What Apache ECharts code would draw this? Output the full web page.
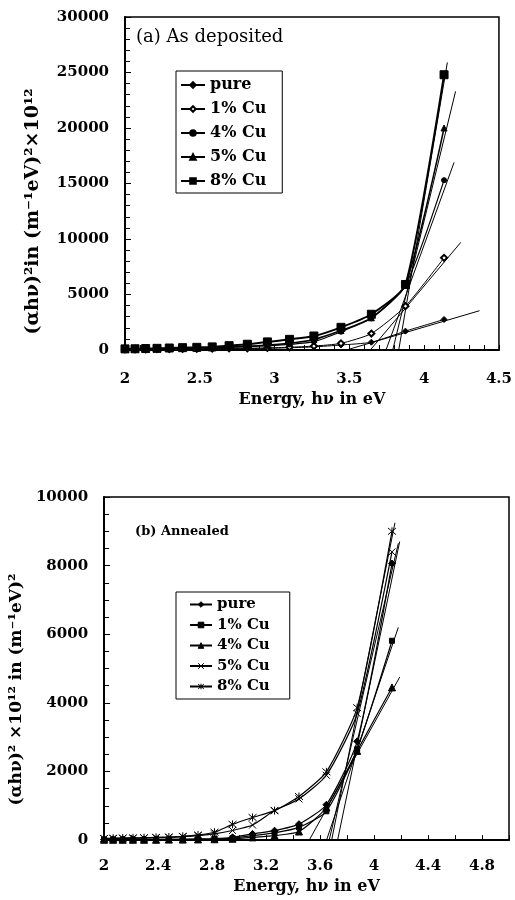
<!DOCTYPE html>
<html><head><meta charset="utf-8">
<script src="https://cdn.jsdelivr.net/npm/echarts@6/dist/echarts.min.js"></script>
<style>
html,body{margin:0;padding:0;background:#fff;width:515px;height:900px;overflow:hidden}
#a{position:absolute;left:0;top:0;width:515px;height:450px}
#b{position:absolute;left:0;top:450px;width:515px;height:450px}
</style>
</head><body><div id="a"></div><div id="b"></div>
<script>
// Photon energies (eV)
const energy = [2.0, 2.067, 2.138, 2.214, 2.296, 2.385, 2.48, 2.583, 2.696, 2.818, 2.952, 3.1, 3.263, 3.444, 3.647, 3.875, 4.133];
const seriesNames = ['pure', '1% Cu', '4% Cu', '5% Cu', '8% Cu'];

// (a) As deposited
const pureA = [50, 55, 60, 65, 70, 80, 90, 100, 110, 130, 150, 200, 280, 450, 700, 1700, 2750];
const cu1A  = [60, 65, 70, 80, 90, 100, 110, 120, 140, 160, 190, 250, 350, 600, 1480, 3950, 8300];
const cu4A  = [80, 90, 100, 110, 130, 150, 170, 200, 240, 300, 380, 500, 750, 1650, 2850, 5800, 15300];
const cu5A  = [90, 100, 110, 120, 140, 160, 190, 220, 270, 340, 440, 600, 950, 1750, 2900, 5850, 20000];
const cu8A  = [100, 110, 130, 150, 180, 210, 240, 280, 390, 520, 730, 960, 1260, 2040, 3220, 5900, 24800];
// tangent (extrapolation) lines, panel a
const tanPureA = [[3.48, 0], [4.37, 3540]];
const tan1A    = [[3.64, 0], [4.245, 9700]];
const tan4A    = [[3.745, 0], [4.2, 16900]];
const tan5A    = [[3.79, 0], [4.21, 23300]];
const tan8A    = [[3.83, 0], [4.155, 25900]];

// (b) Annealed
const pureB = [20, 20, 20, 20, 20, 20, 25, 25, 30, 40, 80, 180, 275, 465, 1030, 2880, 8060];
const cu1B  = [15, 15, 15, 15, 15, 15, 20, 20, 25, 30, 60, 130, 210, 370, 840, 2650, 5810];
const cu4B  = [10, 10, 10, 10, 10, 10, 15, 15, 20, 25, 40, 80, 130, 250, 950, 2600, 4450];
const cu5B  = [40, 45, 50, 55, 60, 70, 80, 100, 130, 180, 280, 440, 860, 1200, 1890, 3690, 8400];
const cu8B  = [50, 55, 60, 65, 70, 80, 90, 110, 150, 230, 460, 660, 860, 1270, 1990, 3860, 9000];
// tangent lines, panel b
const tanPureB = [[3.73, 0], [4.19, 8700]];
const tan1B    = [[3.648, 0], [4.18, 6200]];
const tan4B    = [[3.52, 0], [4.19, 4750]];
const tan5B    = [[3.668, 0], [4.18, 8650]];
const tan8B    = [[3.686, 0], [4.155, 9250]];

const FONT = 'DejaVu Serif';

function pts(vals) { return energy.map((x, i) => [x, vals[i]]); }
function plain(v) { return String(Math.round(v * 1000) / 1000); }

function xAxisCfg(min, max, interval, minorSplit, name, nameGap, labelMargin, showMax) {
  return {
    type: 'value', min: min, max: max, interval: interval,
    axisLine: {show: true, onZero: false, lineStyle: {color: '#000', width: 2}},
    axisTick: {show: true, inside: true, length: 5, lineStyle: {color: '#000', width: 1}},
    minorTick: {show: true, splitNumber: minorSplit, length: 5, lineStyle: {color: '#000', width: 1}},
    splitLine: {show: false},
    axisLabel: {color: '#000', fontFamily: FONT, fontWeight: 'bold', fontSize: 15, margin: labelMargin, showMaxLabel: showMax, formatter: plain},
    name: name, nameLocation: 'middle', nameGap: nameGap,
    nameTextStyle: {color: '#000', fontFamily: FONT, fontWeight: 'bold', fontSize: 16}
  };
}
function yAxisCfg(min, max, interval, minorSplit, name, nameGap, fontSize, shift) {
  return {
    type: 'value', min: min, max: max, interval: interval,
    axisLine: {show: true, lineStyle: {color: '#000', width: 2}},
    axisTick: {show: true, inside: true, length: 6, lineStyle: {color: '#000', width: 1}},
    minorTick: {show: true, splitNumber: minorSplit, length: 5, lineStyle: {color: '#000', width: 1}},
    splitLine: {show: false},
    axisLabel: {color: '#000', fontFamily: FONT, fontWeight: 'bold', fontSize: 15, margin: 16, formatter: plain},
    name: name, nameLocation: 'middle', nameGap: nameGap,
    nameTextStyle: {color: '#000', fontFamily: FONT, fontWeight: 'bold', fontSize: fontSize, padding: [0, shift, 0, 0]}
  };
}
function curve(name, data, symbol, size, width, fill) {
  return {
    name: name, type: 'line', data: data, symbol: symbol, symbolSize: size,
    smooth: 0.2, z: 3,
    lineStyle: {color: '#000', width: width},
    itemStyle: {color: fill || '#000', borderColor: '#000', borderWidth: 1}
  };
}
function tangent(data) {
  return {name: 'tangent', type: 'line', data: data, symbol: 'none', z: 2,
    lineStyle: {color: '#000', width: 1}, silent: true};
}

const chartA = echarts.init(document.getElementById('a'), null, {renderer: 'canvas'});
chartA.setOption({
  animation: false,
  backgroundColor: '#fff',
  grid: {left: 125, right: 15, top: 17, bottom: 100, show: true, borderColor: '#000', borderWidth: 1.5, backgroundColor: 'transparent'},
  xAxis: xAxisCfg(2, 4.5, 0.5, 5, 'Energy, hν in eV', 38, 22, true),
  yAxis: yAxisCfg(0, 30000, 5000, 5, '(αhν)²in (m⁻¹eV)²×10¹²', 82, 19, 56),
  graphic: [{type: 'text', left: 136, top: 28, style: {text: '(a) As deposited', fill: '#000', font: '18px "DejaVu Serif"'}}],
  legend: {
    data: seriesNames, orient: 'vertical', left: 176, top: 71,
    padding: [6, 16, 4, 4], itemGap: 8, itemWidth: 24, itemHeight: 7,
    borderColor: '#000', borderWidth: 1, backgroundColor: '#fff',
    textStyle: {color: '#000', fontFamily: FONT, fontWeight: 'bold', fontSize: 16, lineHeight: 16}
  },
  series: [
    tangent(tanPureA), tangent(tan1A), tangent(tan4A), tangent(tan5A), tangent(tan8A),
    curve('pure', pts(pureA), 'diamond', 6, 1),
    curve('1% Cu', pts(cu1A), 'emptyDiamond', 6, 1),
    curve('4% Cu', pts(cu4A), 'circle', 5, 1.2),
    curve('5% Cu', pts(cu5A), 'triangle', 6, 1.5),
    curve('8% Cu', pts(cu8A), 'rect', 8, 2)
  ]
});

const X_PATH = 'path://M0,0L10,10M10,0L0,10';
const STAR_PATH = 'path://M0,0L10,10M10,0L0,10M5,-1L5,11';
const chartB = echarts.init(document.getElementById('b'), null, {renderer: 'canvas'});
chartB.setOption({
  animation: false,
  backgroundColor: '#fff',
  grid: {left: 102, right: 6, top: 47, bottom: 52, show: true, borderColor: '#000', borderWidth: 1.5, backgroundColor: 'transparent'},
  xAxis: xAxisCfg(2, 5, 0.4, 2, 'Energy, hν in eV', 26, 19, false),
  yAxis: yAxisCfg(0, 10000, 2000, 4, '(αhν)² ×10¹² in (m⁻¹eV)²', 70, 17, 42),
  graphic: [{type: 'text', left: 135, top: 75, style: {text: '(b) Annealed', fill: '#000', font: 'bold 13px "DejaVu Serif"'}}],
  legend: {
    data: seriesNames, orient: 'vertical', left: 176, top: 142,
    padding: [5, 20, 5, 13], itemGap: 5.5, itemWidth: 22, itemHeight: 7,
    borderColor: '#000', borderWidth: 1, backgroundColor: '#fff',
    itemStyle: {borderColor: '#000', borderWidth: 1},
    textStyle: {color: '#000', fontFamily: FONT, fontWeight: 'bold', fontSize: 15, lineHeight: 14}
  },
  series: [
    tangent(tanPureB), tangent(tan1B), tangent(tan4B), tangent(tan5B), tangent(tan8B),
    curve('pure', pts(pureB), 'diamond', 7, 1.2),
    curve('1% Cu', pts(cu1B), 'rect', 5, 1.2),
    curve('4% Cu', pts(cu4B), 'triangle', 7, 1.2),
    curve('5% Cu', pts(cu5B), X_PATH, 7, 1.2, 'none'),
    curve('8% Cu', pts(cu8B), STAR_PATH, 8, 1.2, 'none')
  ]
});
</script></body></html>
